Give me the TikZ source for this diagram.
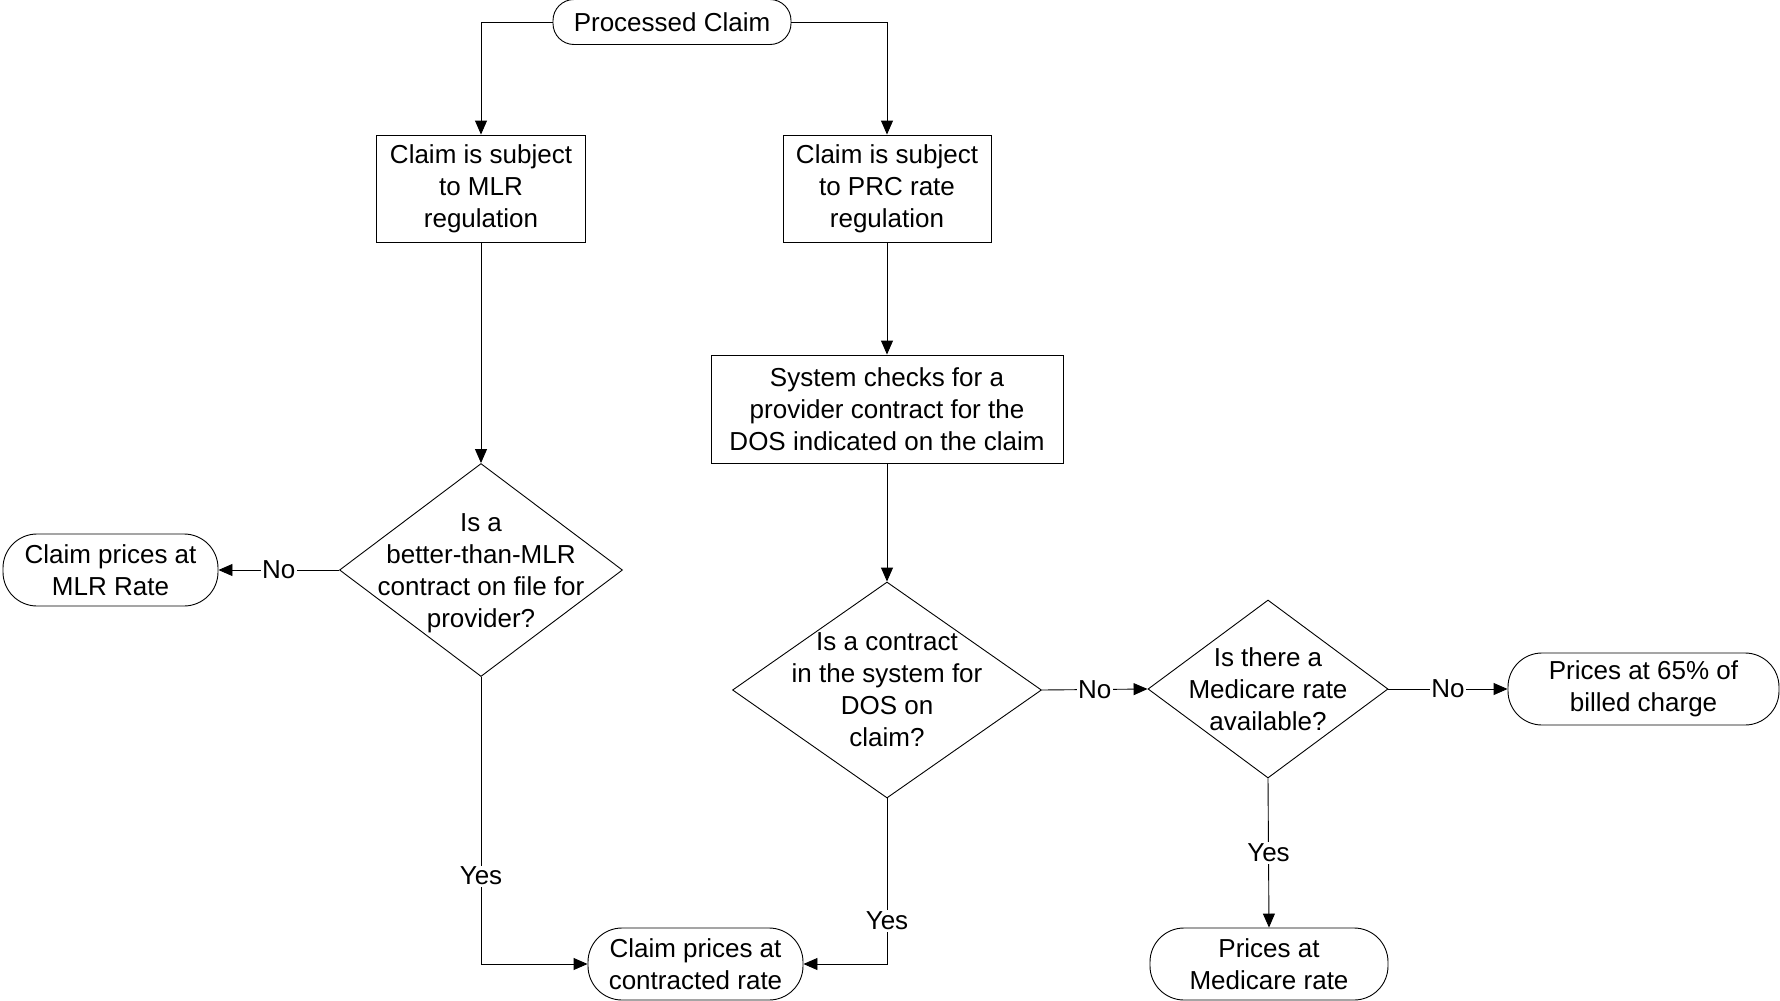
\documentclass[tikz,border=0pt]{standalone}
\usepackage{fontspec}
\setmainfont{Liberation Sans}
\usetikzlibrary{arrows.meta,shapes.geometric}
\begin{document}
\begin{tikzpicture}[x=1pt,y=-1pt,
  every node/.style={font=\fontsize{26}{32}\selectfont},
  ln/.style={line width=0.9pt, draw=black},
  arr/.style={ln,-{Triangle[length=14pt,width=12pt]}},
  procbox/.style={draw, line width=0.9pt, rectangle, inner sep=0pt, align=center},
  term/.style={draw, line width=0.9pt, rectangle, rounded corners=34pt, inner sep=0pt, align=center},
  dia/.style={draw, line width=0.9pt, diamond, inner sep=0pt},
  txt/.style={align=center, inner sep=0pt},
  lbl/.style={fill=white, inner sep=1.5pt},
]
\path[use as bounding box] (0,0) rectangle (1780,1001);

\node[term, minimum width=238pt, minimum height=45pt, rounded corners=21pt] (pc) at (672,22) {Processed Claim};
\node[procbox, minimum width=209pt, minimum height=107pt] (mlr) at (481,188.5) {Claim is subject\\to MLR\\regulation};
\node[procbox, minimum width=208pt, minimum height=107pt] (prc) at (887,188.5) {Claim is subject\\to PRC rate\\regulation};
\node[procbox, minimum width=352pt, minimum height=108pt] (sys) at (887,409) {System checks for a\\provider contract for the\\DOS indicated on the claim};

\node[dia, minimum width=283pt, minimum height=213pt] (d1) at (481,570) {};
\node[txt] (d1t) at ([yshift=-3.5pt]d1.center) {Is a\\better-than-MLR\\contract on file for\\provider?};
\node[dia, minimum width=309pt, minimum height=216pt] (d2) at (887,690) {};
\node[txt] (d2t) at (d2) {Is a contract\\in the system for\\DOS on\\claim?};
\node[dia, minimum width=240pt, minimum height=178pt] (d3) at (1268,689) {};
\node[txt] (d3t) at (d3) {Is there a\\Medicare rate\\available?};

\node[term, minimum width=215pt, minimum height=72pt] (mlrrate) at (110.5,570) {Claim prices at\\MLR Rate};
\node[term, minimum width=271pt, minimum height=72pt] (p65) at (1643.5,689) {Prices at 65\% of\\billed charge};
\node[term, minimum width=238pt, minimum height=72pt] (med) at (1269,964) {Prices at\\Medicare rate};
\node[term, minimum width=215pt, minimum height=72pt] (con) at (695.5,964) {Claim prices at\\contracted rate};

\draw[arr] (pc.west) -| (mlr.north);
\draw[arr] (pc.east) -| (prc.north);
\draw[arr] (mlr.south) -- (d1.north);
\draw[arr] (prc.south) -- (sys.north);
\draw[arr] (sys.south) -- (d2.north);
\draw[arr] (d1.west) -- node[lbl]{No} (mlrrate.east);
\draw[arr] (d1.south) |- node[lbl,pos=0.347]{Yes} (con.west);
\draw[arr] (d2.south) |- node[lbl,pos=0.37]{Yes} (con.east);
\draw[arr] (d2.east) -- node[lbl]{No} (d3.west);
\draw[arr] (d3.east) -- node[lbl]{No} (p65.west);
\draw[arr] (d3.south) -- node[lbl]{Yes} (med.north);
\end{tikzpicture}
\end{document}
